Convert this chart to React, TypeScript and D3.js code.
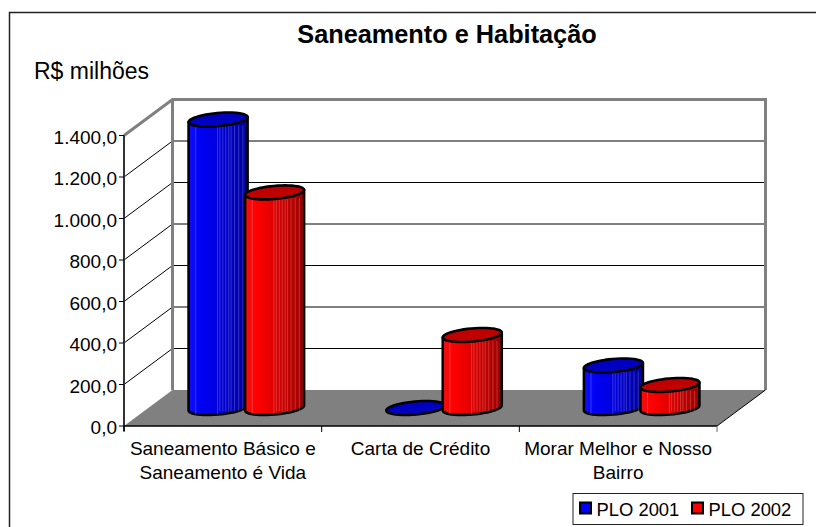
import React from "react";
import * as d3 from "d3";

const categories = [["Saneamento Básico e", "Saneamento é Vida"], ["Carta de Crédito"], ["Morar Melhor e Nosso", "Bairro"]];
const series = ["PLO 2001", "PLO 2002"];
const plo2001 = [1390, 0, 205];
const plo2002 = [1039, 352, 111];
const yTicks = [0, 200, 400, 600, 800, 1000, 1200, 1400];
const tickLabels = ["0,0", "200,0", "400,0", "600,0", "800,0", "1.000,0", "1.200,0", "1.400,0"];
const stripes = [0.12, 0.49, 0.53, 0.58, 0.63, 0.68, 0.72, 0.78, 0.85, 0.92];

const X0 = 124, X1 = 717, DX = 48.5, DY = 36, Y_BOTTOM = 426, Y_TOP = 135.5;
const x = d3.scaleBand<number>().domain([0, 1, 2]).range([X0, X1]);
const y = d3.scaleLinear().domain([0, 1400]).range([Y_BOTTOM, Y_TOP]);
const barFull = 59, cylDx = 21, cylDy = 14;
const cylW = Math.sqrt(barFull * barFull - cylDx * cylDx);
const GREY = "#808080";
const line = d3.line().curve(d3.curveLinearClosed);

function ellipsePoint(cx: number, cy: number, a: number): [number, number] {
  return [cx + (cylW / 2) * Math.cos(a) - (cylDx / 2) * Math.sin(a), cy + (cylDy / 2) * Math.sin(a)];
}

function Cylinder({ cx, value, id, top }: { cx: number; value: number; id: string; top: string }) {
  const base = y(0) - DY / 2;
  const topY = base - (y(0) - y(value));
  const left = cx - barFull / 2;
  const topPts = d3.range(0, 48).map((i) => ellipsePoint(cx, topY, (i / 48) * 2 * Math.PI));
  const a0 = Math.atan2(cylDx, cylW);
  const arc = d3.range(0, 25).map((i) => ellipsePoint(cx, base, -a0 + (i / 24) * Math.PI));
  const body: [number, number][] = [...arc, [arc[24][0], topY + (arc[24][1] - base)], [arc[0][0], topY + (arc[0][1] - base)]];
  return (
    <g>
      {value > 0 && <path d={line(body)!} fill={`url(#${id})`} stroke="#000" strokeWidth={2.6} strokeLinejoin="round" />}
      {value > 0 && stripes.map((s) => (
        <line key={s} x1={left + s * barFull} x2={left + s * barFull} y1={topY + 6} y2={base + (s < 0.5 ? 6.5 : 3.5)} stroke="#fff" strokeOpacity={0.2} strokeWidth={1} />
      ))}
      <path d={line(topPts)!} fill={top} stroke="#000" strokeWidth={2.6} strokeLinejoin="round" />
    </g>
  );
}

export default function App() {
  const back = (v: number) => y(v) - DY;
  const bars = categories.map((_, i) => {
    const c = x(i)! + x.bandwidth() / 2 + DX / 2;
    return [
      { cx: c - 29, value: plo2001[i] },
      { cx: c + 27.5, value: plo2002[i] },
    ];
  });
  return (
    <svg width={816} height={527} style={{ position: "absolute", left: 0, top: 0, fontFamily: "'Liberation Sans', Arial, sans-serif" }}>
      <defs>
        <linearGradient id="gb">
          <stop offset="0" stopColor="#1010ff" /><stop offset="0.2" stopColor="#0000f4" /><stop offset="0.55" stopColor="#0000d8" /><stop offset="1" stopColor="#00009a" />
        </linearGradient>
        <linearGradient id="gr">
          <stop offset="0" stopColor="#f01010" /><stop offset="0.2" stopColor="#ff0000" /><stop offset="0.55" stopColor="#d80000" /><stop offset="1" stopColor="#9a0000" />
        </linearGradient>
      </defs>
      <path d="M9.5,527V12.5H816" fill="none" stroke="#222" strokeWidth={1.5} />
      <text x={447} y={43} textAnchor="middle" fontWeight="bold" fontSize={25.3}>Saneamento e Habitação</text>
      <text x={34} y={79} fontSize={23}>R$ milhões</text>

      <path d={`M${X0 + DX},${Y_BOTTOM - DY}L${X1 + DX},${Y_BOTTOM - DY}L${X1},${Y_BOTTOM}L${X0},${Y_BOTTOM}Z`} fill={GREY} />
      {yTicks.slice(1, -1).map((t) => (
        <g key={t} stroke="#000" strokeWidth={1}>
          <line x1={X0} y1={y(t)} x2={X0 + DX} y2={back(t)} />
          <line x1={X0 + DX} y1={back(t)} x2={X1 + DX} y2={back(t)} />
        </g>
      ))}
      <path d={`M${X0},${Y_TOP}L${X0 + DX},${Y_TOP - DY}L${X1 + DX},${Y_TOP - DY}L${X1 + DX},${Y_BOTTOM - DY}`} fill="none" stroke={GREY} strokeWidth={3} />
      <line x1={X0 + DX} y1={Y_TOP - DY} x2={X0 + DX} y2={Y_BOTTOM - DY} stroke={GREY} strokeWidth={3} />
      <line x1={X1} y1={Y_BOTTOM} x2={X1 + DX} y2={Y_BOTTOM - DY} stroke="#000" strokeWidth={1} />

      <line x1={X0} y1={Y_TOP} x2={X0} y2={Y_BOTTOM + 5} stroke="#333" strokeWidth={2} />
      <line x1={X0} y1={Y_BOTTOM} x2={X1} y2={Y_BOTTOM} stroke="#000" strokeWidth={1.4} />
      {yTicks.map((t, i) => (
        <g key={t}>
          <line x1={X0 - 5} x2={X0} y1={y(t)} y2={y(t)} stroke="#000" />
          <text x={X0 - 7} y={y(t) + 8.3} textAnchor="end" fontSize={19}>{tickLabels[i]}</text>
        </g>
      ))}
      {[0, 1, 2, 3].map((i) => {
        const px = i === 3 ? X1 : x(i)!;
        return <line key={i} x1={px} x2={px} y1={Y_BOTTOM} y2={Y_BOTTOM + 6} stroke={i === 3 ? "#666" : "#000"} />;
      })}
      {bars.map((pair, i) => (
        <g key={i}>
          {pair.map((b, j) => (
            <Cylinder key={j} cx={b.cx} value={b.value} id={j === 0 ? "gb" : "gr"} top={j === 0 ? "#0000c0" : "#c00000"} />
          ))}
        </g>
      ))}
      {categories.map((lines, i) => (
        <text key={i} textAnchor="middle" fontSize={19}>
          {lines.map((l, k) => (
            <tspan key={k} x={x(i)! + x.bandwidth() / 2} y={455 + k * 24}>{l}</tspan>
          ))}
        </text>
      ))}
      <rect x={573} y={493.5} width={230} height={31} fill="#fff" stroke="#222" strokeWidth={1} />
      {series.map((s, i) => (
        <g key={s}>
          <rect x={580 + i * 112} y={502.5} width={11} height={11} fill={i === 0 ? "#0000ff" : "#ff0000"} stroke="#000" strokeWidth={2} />
          <text x={596.5 + i * 112} y={515.5} fontSize={18.4}>{s}</text>
        </g>
      ))}
    </svg>
  );
}
